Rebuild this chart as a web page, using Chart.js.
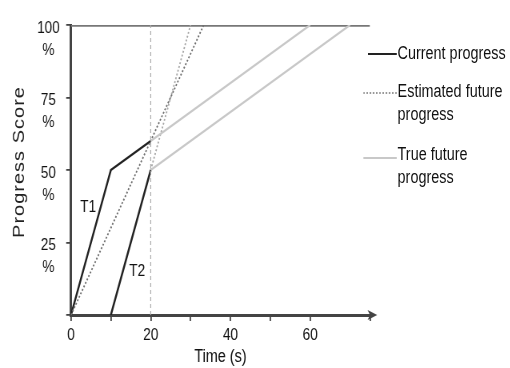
<!DOCTYPE html>
<html><head><meta charset="utf-8">
<script src="https://cdn.jsdelivr.net/npm/chart.js@4"></script>
<style>
html,body{margin:0;padding:0;background:#fff;overflow:hidden;}
#wrap{position:relative;width:638px;height:368px;transform:scaleX(0.8);transform-origin:0 0;}
canvas{position:absolute;left:0;top:0;}
.lg{position:absolute;font-family:"Liberation Sans",Arial,sans-serif;font-size:18px;color:#111;line-height:23px;white-space:nowrap;}
.sw{position:absolute;height:0;}
</style></head>
<body><div id="wrap"><canvas id="c" width="638" height="368"></canvas>
<div class="sw" style="left:460px;top:53px;width:36px;border-top:2px solid #222"></div>
<div class="lg" style="left:497px;top:42px">Current progress</div>
<div class="sw" style="left:454px;top:92px;width:42px;border-top:2px dotted #999"></div>
<div class="lg" style="left:497px;top:80px">Estimated future<br>progress</div>
<div class="sw" style="left:454px;top:157px;width:42px;border-top:2px solid #c8c8c8"></div>
<div class="lg" style="left:497px;top:143px">True future<br>progress</div>
</div>
<script>
const xTicks = [0, 20, 40, 60];
const yTicks = [25, 50, 75, 100];
const topLine = [{x:0,y:100},{x:75,y:100}];
const currentT1 = [{x:0,y:0},{x:10,y:50},{x:20,y:60}];
const currentT2 = [{x:10,y:0},{x:20,y:50}];
const estimatedT1 = [{x:0,y:0},{x:33.3,y:100}];
const estimatedT2 = [{x:20,y:50},{x:30,y:100}];
const trueT1 = [{x:20,y:60},{x:60,y:100}];
const trueT2 = [{x:20,y:50},{x:70,y:100}];
const nowLine = [{x:20,y:0},{x:20,y:100}];
const taskLabels = [{text:'T1',x:4.3,y:37},{text:'T2',x:16.6,y:15}];
const yTitle = 'Progress Score';

const FONT = '"Liberation Sans",Arial,sans-serif';

const extras = {
  id:'extras',
  afterDatasetsDraw(chart){
    const ctx = chart.ctx, xs = chart.scales.x, ys = chart.scales.y;
    ctx.save();
    const ax = xs.right, ay = ys.getPixelForValue(0);
    ctx.fillStyle = '#444';
    ctx.beginPath();
    ctx.moveTo(ax+9, ay);
    ctx.lineTo(ax-3, ay-5);
    ctx.lineTo(ax, ay);
    ctx.lineTo(ax-3, ay+5);
    ctx.closePath();
    ctx.fill();
    ctx.fillStyle = '#111';
    ctx.font = '17px ' + FONT;
    ctx.textAlign = 'center';
    ctx.textBaseline = 'middle';
    taskLabels.forEach(t => ctx.fillText(t.text, xs.getPixelForValue(t.x), ys.getPixelForValue(t.y)));
    // y axis title with wide letter spacing
    ctx.translate(24, (chart.chartArea.top + chart.chartArea.bottom)/2 - 8);
    ctx.rotate(-Math.PI/2);
    ctx.font = '20px ' + FONT;
    ctx.fillStyle = '#222';
    if ('letterSpacing' in ctx) ctx.letterSpacing = '1px';
    ctx.fillText(yTitle, 0, 0);
    ctx.restore();
  }
};

function ds(data, color, width, dash){
  return {data, borderColor:color, borderWidth:width, borderDash:dash||[], pointRadius:0, fill:false, tension:0};
}

new Chart(document.getElementById('c'), {
  type:'line',
  data:{datasets:[
    ds(nowLine,'#aaaaaa',1.2,[4,3]),
    ds(trueT1,'#c8c8c8',2.2),
    ds(trueT2,'#c8c8c8',2.2),
    ds(estimatedT1,'#707070',1.8,[2,2]),
    ds(estimatedT2,'#a8a8a8',1.8,[2,2]),
    ds(currentT1,'#222222',2.4),
    ds(currentT2,'#222222',2.4),
    ds(topLine,'#777777',3.5)
  ]},
  options:{
    responsive:false, animation:false,
    layout:{padding:{left:34,right:175.5,top:25,bottom:0}},
    plugins:{legend:{display:false},tooltip:{enabled:false}},
    scales:{
      x:{type:'linear',min:0,max:75,
        afterFit:(s)=>{s.height = 53;},
        border:{display:true,color:'#444',width:3},
        grid:{drawOnChartArea:false,drawTicks:true,tickLength:6,color:'#444',lineWidth:1.8},
        ticks:{stepSize:10,autoSkip:false,maxRotation:0,color:'#111',padding:4,
          font:{family:FONT,size:17},
          callback:(v)=> xTicks.includes(v) ? String(v) : ''},
        title:{display:true,text:'Time (s)',color:'#111',font:{family:FONT,size:18},padding:{top:0,bottom:0}}
      },
      y:{min:0,max:100,
        afterFit:(s)=>{s.width = 54.75; s.paddingTop = 0; s.paddingBottom = 0;},
        border:{display:true,color:'#444',width:3},
        grid:{drawOnChartArea:false,drawTicks:true,tickLength:6,color:'#444',lineWidth:1.8},
        ticks:{stepSize:25,color:'#111',crossAlign:'center',labelOffset:14,padding:8,
          font:{family:FONT,size:17,lineHeight:1.3},
          callback:(v)=> yTicks.includes(v) ? [String(v),'%'] : ''}
      }
    }
  },
  plugins:[extras]
});
</script></body></html>
